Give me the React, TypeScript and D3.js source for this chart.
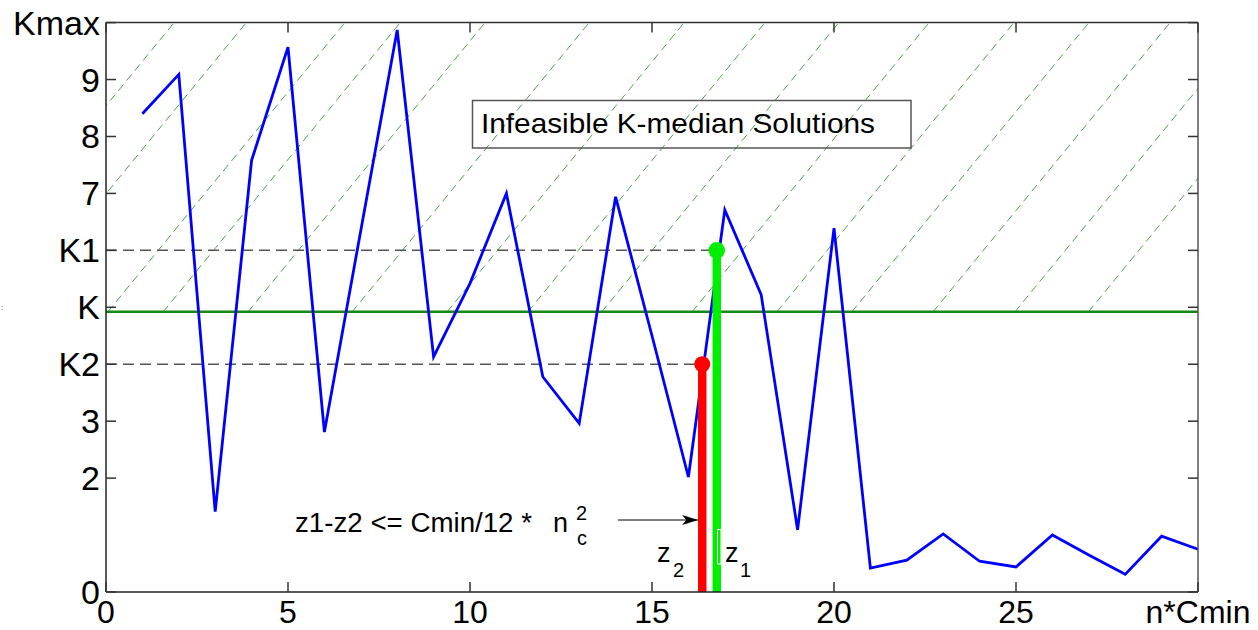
import React from "react";
import * as d3 from "d3";

// ---- data ----
const xValues = [1, 2, 3, 4, 5, 6, 7, 8, 9, 10, 11, 12, 13, 14, 15, 16, 17, 18, 19, 20, 21, 22, 23, 24, 25, 26, 27, 28, 29, 30];
const kValues = [8.4, 9.09, 1.41, 7.58, 9.57, 2.81, 6.35, 9.87, 4.13, 5.42, 7.0, 3.78, 2.96, 6.94, 4.5, 2.02, 6.71, 5.22, 1.09, 6.39, 0.42, 0.56, 1.02, 0.54, 0.44, 1.0, 0.65, 0.31, 0.98, 0.75];

const yTickValues = [0, 2, 3, 4, 5, 6, 7, 8, 9, 10];
const yTickLabels = ["0", "2", "3", "K2", "K", "K1", "7", "8", "9", "Kmax"];
const xTickValues = [0, 5, 10, 15, 20, 25, 30];
const xTickLabels = ["0", "5", "10", "15", "20", "25", "n*Cmin"];

const K_LINE = 4.92;
const K1 = 6;
const K2 = 4;
const Z1 = 16.78;
const Z2 = 16.38;

// hatch line start points (x in data units where each line leaves the K line)
const hatchStarts = [-4.64, -2.66, 0.05, 1.57, 3.9, 6.76, 9.37, 11.59, 13.62, 16.1, 18.43, 20.49, 22.72, 24.97, 26.99];
const hatchSlope = 0.78;

const W = 1258;
const H = 630;
const left = 106;
const right = 1198;
const top = 22.6;
const bottom = 592;
const FONT = "'Liberation Sans', Arial, Helvetica, sans-serif";

export default function App() {
  const x = d3.scaleLinear().domain([0, 30]).range([left, right]);
  const y = d3.scaleLinear().domain([0, 10]).range([bottom, top]);

  const line = d3
    .line<number>()
    .x((_, i) => x(xValues[i]))
    .y((d) => y(d));

  const hatchLines = hatchStarts.map((x0) => {
    const x1 = x0 + (10 - K_LINE) / hatchSlope;
    return { x0, y0: K_LINE, x1, y1: 10 };
  });

  const tickLen = 10;

  return (
    <svg
      width={W}
      height={H}
      style={{ position: "absolute", left: 0, top: 0, background: "#fff" }}
      fontFamily={FONT}
    >
      <defs>
        <clipPath id="hatchClip">
          <rect x={left} y={top} width={right - left} height={y(K_LINE) - top} />
        </clipPath>
        <marker id="arrowHead" viewBox="0 0 16 10" refX="16" refY="5" markerWidth="16" markerHeight="10" markerUnits="userSpaceOnUse" orient="auto">
          <path d="M0,0 L16,5 L0,10 L4,5 Z" fill="#000" />
        </marker>
      </defs>
      <rect x={0} y={0} width={W} height={H} fill="#fff" />

      {/* hatch */}
      <g clipPath="url(#hatchClip)">
        {hatchLines.map((h, i) => (
          <line
            key={i}
            x1={x(h.x0)}
            y1={y(h.y0)}
            x2={x(h.x1)}
            y2={y(h.y1)}
            stroke="#2f942f"
            strokeWidth={1}
            strokeDasharray="8,5"
            opacity={0.85}
          />
        ))}
      </g>

      {/* infeasible box */}
      <rect x={472.5} y={100.5} width={438.5} height={47.5} fill="none" stroke="#555" strokeWidth={1.5} />
      <text x={481} y={133} fontSize={28} fill="#000" textLength={394} lengthAdjust="spacingAndGlyphs">
        Infeasible K-median Solutions
      </text>

      {/* K1/K2 dashed reference lines */}
      <line x1={left} x2={x(Z1)} y1={y(K1)} y2={y(K1)} stroke="#555" strokeWidth={1.5} strokeDasharray="11,6" />
      <line x1={left} x2={x(Z2)} y1={y(K2)} y2={y(K2)} stroke="#555" strokeWidth={1.5} strokeDasharray="11,6" />

      {/* K horizontal line */}
      <line x1={left} x2={right} y1={y(K_LINE)} y2={y(K_LINE)} stroke="#138a13" strokeWidth={2.5} />

      {/* main series */}
      <path d={line(kValues) || ""} fill="none" stroke="#0000ff" strokeWidth={2.8} strokeLinejoin="miter" />

      {/* stems */}
      <line x1={x(Z2)} x2={x(Z2)} y1={y(K2)} y2={y(0)} stroke="#ff0000" strokeWidth={8.5} />
      <circle cx={x(Z2)} cy={y(K2)} r={8} fill="#ff0000" />
      <line x1={x(Z1)} x2={x(Z1)} y1={y(K1)} y2={y(0)} stroke="#00ee00" strokeWidth={8.5} />
      <circle cx={x(Z1)} cy={y(K1)} r={8.3} fill="#00ee00" />
      <rect x={717.5} y={529.5} width={3.5} height={34.5} fill="none" stroke="#fff" strokeWidth={1} />

      {/* arrow annotation */}
      <line x1={618} x2={x(Z2) - 4} y1={520} y2={520} stroke="#000" strokeWidth={1} markerEnd="url(#arrowHead)" />
      <text x={295} y={532} fontSize={27} fill="#000" textLength={237} lengthAdjust="spacingAndGlyphs">
        z1-z2 {"<="} Cmin/12 *
      </text>
      <text x={553} y={532} fontSize={27} fill="#000">n</text>
      <text x={576} y={520} fontSize={20} fill="#000">2</text>
      <text x={577} y={545} fontSize={20} fill="#000">c</text>

      <text x={657} y={562} fontSize={27} fill="#000">z</text>
      <text x={673} y={577} fontSize={20} fill="#000">2</text>
      <text x={725} y={562} fontSize={27} fill="#000">z</text>
      <text x={740} y={577} fontSize={20} fill="#000">1</text>

      {/* frame */}
      <line x1={left} x2={left} y1={top} y2={bottom} stroke="#222" strokeWidth={1.5} />
      <line x1={left} x2={right} y1={bottom} y2={bottom} stroke="#222" strokeWidth={1.5} />
      <line x1={left} x2={right} y1={top} y2={top} stroke="#333" strokeWidth={1.5} />
      <line x1={right} x2={right} y1={top} y2={bottom} stroke="#555" strokeWidth={1.5} />

      {/* y ticks */}
      {yTickValues.map((v, i) => (
        <g key={"y" + i}>
          <line x1={left} x2={left + tickLen} y1={y(v)} y2={y(v)} stroke="#333" strokeWidth={1.5} />
          <line x1={right} x2={right - tickLen} y1={y(v)} y2={y(v)} stroke="#333" strokeWidth={1.5} />
          <text x={100} y={y(v) + 12} fontSize={34} textAnchor="end" fill="#000">
            {yTickLabels[i]}
          </text>
        </g>
      ))}

      {/* x ticks */}
      {xTickValues.map((v, i) => (
        <g key={"x" + i}>
          <line x1={x(v)} x2={x(v)} y1={bottom} y2={bottom - tickLen} stroke="#333" strokeWidth={1.5} />
          <line x1={x(v)} x2={x(v)} y1={top} y2={top + tickLen} stroke="#333" strokeWidth={1.5} />
          <text x={x(v)} y={623} fontSize={32} textAnchor="middle" fill="#000">
            {xTickLabels[i]}
          </text>
        </g>
      ))}

      <text x={1} y={310} fontSize={8} fill="#000">:</text>
    </svg>
  );
}
